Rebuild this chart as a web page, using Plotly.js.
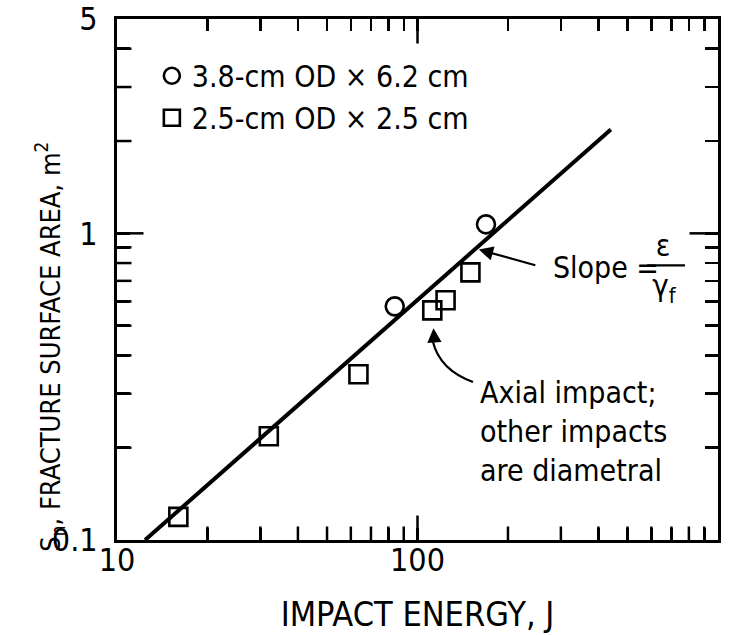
<!DOCTYPE html>
<html>
<head>
<meta charset="utf-8">
<script src="https://cdn.plot.ly/plotly-3.0.1.min.js"></script>
<style>
  html, body { margin: 0; padding: 0; background: #fff; }
  #chart { width: 753px; height: 635px; }
  /* narrow lettering for every label */
  #chart text { font-stretch: condensed !important; }
</style>
</head>
<body>
<div id="chart"></div>
<script>
// Fracture surface area versus impact energy (log-log)
const circleEnergy = [84, 169];
const circleArea = [0.578, 1.07];
const squareEnergy = [16, 32, 63.6, 112, 124, 150];
const squareArea = [0.119, 0.218, 0.347, 0.561, 0.605, 0.746];

// Fitted power-law line end points
const fitEnergy = [12.4, 440];
const fitArea = [0.1, 2.18];

const legendNames = ['3.8-cm OD \u00d7 6.2 cm', '2.5-cm OD \u00d7 2.5 cm'];

const xMajorTicks = [10, 100, 1000];
const xMajorLabels = ['10', '100', '1000'];
const xMinorTicks = [20, 30, 40, 50, 60, 70, 80, 90, 200, 300, 400, 500, 600, 700, 800, 900];
const yMajorTicks = [0.1, 1, 5];
const yMajorLabels = ['0.1', '1', '5'];
const yMinorTicks = [0.2, 0.3, 0.4, 0.5, 0.6, 0.7, 0.8, 0.9, 2, 3, 4];

const FONT = '"DejaVu Sans", sans-serif';
const X_RANGE = [1, 3];
const Y_RANGE = [-1, Math.log10(5)];
const MARGIN = { l: 117, r: 35, t: 19, b: 95 };
const PLOT_W = 753 - MARGIN.l - MARGIN.r;
const PLOT_H = 635 - MARGIN.t - MARGIN.b;

const TICK_W = 2.5, LINE_W = 3;
const X_MINOR_LEN = 12, X_MAJOR_LEN = 23, Y_MINOR_LEN = 13, Y_MAJOR_LEN = 25, Y_MAJOR_LEN_R = 27;
const pad = LINE_W / 2;

const toFrac = (v, r) => (Math.log10(v) - r[0]) / (r[1] - r[0]);
const inside = f => f > 0.001 && f < 0.999;
// value on a log axis lying a given number of pixels in from its low end
const xAtPx = px => Math.pow(10, X_RANGE[0] + px / PLOT_W * (X_RANGE[1] - X_RANGE[0]));
const yAtPx = px => Math.pow(10, Y_RANGE[0] + px / PLOT_H * (Y_RANGE[1] - Y_RANGE[0]));

// tick strokes along the bottom and left frame edges, drawn through the axes
const edgeTickX = [], edgeTickY = [];
xMajorTicks.concat(xMinorTicks).forEach(v => {
  if (!inside(toFrac(v, X_RANGE))) return;
  const len = (xMajorTicks.includes(v) ? X_MAJOR_LEN : X_MINOR_LEN) + pad;
  edgeTickX.push(v, v, null);
  edgeTickY.push(yAtPx(0), yAtPx(len), null);
});
yMajorTicks.concat(yMinorTicks).forEach(v => {
  if (!inside(toFrac(v, Y_RANGE))) return;
  const len = (yMajorTicks.includes(v) ? Y_MAJOR_LEN : Y_MINOR_LEN) + pad;
  edgeTickX.push(xAtPx(0), xAtPx(len), null);
  edgeTickY.push(v, v, null);
});

const traces = [
  {
    x: edgeTickX, y: edgeTickY, mode: 'lines', showlegend: false, hoverinfo: 'skip',
    connectgaps: false, line: { color: '#000', width: TICK_W }
  },
  {
    x: fitEnergy, y: fitArea, mode: 'lines', showlegend: false,
    line: { color: '#000', width: 4 }, hoverinfo: 'skip'
  },
  {
    x: circleEnergy, y: circleArea, mode: 'markers', name: legendNames[0],
    marker: { symbol: 'circle-open', size: 18, color: '#000', line: { color: '#000', width: 2.6 } }
  },
  {
    x: squareEnergy, y: squareArea, mode: 'markers', name: legendNames[1],
    marker: { symbol: 'square-open', size: 18, color: '#000', line: { color: '#000', width: 2.6 } }
  }
];

// short ticks for every decade and intermediate value come from the axes
const xAllTicks = xMajorTicks.concat(xMinorTicks);
const xAllLabels = xMajorLabels.concat(xMinorTicks.map(() => ''));
const yAllTicks = yMajorTicks.concat(yMinorTicks);
const yAllLabels = yMajorLabels.concat(yMinorTicks.map(() => ''));

const axisCommon = {
  type: 'log',
  showgrid: false,
  showline: true, linecolor: '#000', linewidth: LINE_W,
  mirror: 'ticks', ticks: 'inside', tickcolor: '#000', tickwidth: TICK_W,
  tickmode: 'array',
  tickfont: { family: FONT, size: 32, color: '#000' }
};

// longer decade strokes on the top and right edges
const tickStyle = { color: '#000', width: TICK_W };
const longTicks = [];
xMajorTicks.forEach(v => {
  const f = toFrac(v, X_RANGE);
  if (!inside(f)) return;
  longTicks.push({ type: 'line', xref: 'paper', yref: 'paper', x0: f, x1: f, y0: 1, y1: 1 - (X_MAJOR_LEN + pad) / PLOT_H, line: tickStyle });
});
yMajorTicks.forEach(v => {
  const f = toFrac(v, Y_RANGE);
  if (!inside(f)) return;
  longTicks.push({ type: 'line', xref: 'paper', yref: 'paper', x0: 1, x1: 1 - (Y_MAJOR_LEN_R + pad) / PLOT_W, y0: f, y1: f, line: tickStyle });
});

const layout = {
  width: 753, height: 635,
  margin: MARGIN,
  font: { family: FONT, color: '#000' },
  showlegend: true,
  legend: {
    x: 0.058, y: 0.941, xanchor: 'left', yanchor: 'top',
    bgcolor: 'rgba(0,0,0,0)', borderwidth: 0,
    font: { family: FONT, size: 30, color: '#000' },
    tracegroupgap: 0, itemwidth: 30
  },
  xaxis: Object.assign({}, axisCommon, {
    range: X_RANGE,
    tickvals: xAllTicks, ticktext: xAllLabels, ticklen: X_MINOR_LEN,
    ticklabelstandoff: -10,
    title: { text: 'IMPACT ENERGY, J', font: { family: FONT, size: 34, color: '#000' }, standoff: 24 }
  }),
  yaxis: Object.assign({}, axisCommon, {
    range: Y_RANGE,
    tickvals: yAllTicks, ticktext: yAllLabels, ticklen: Y_MINOR_LEN,
    ticklabelstandoff: 10
  }),
  shapes: longTicks.concat([
    // curved leader to the axial-impact point
    {
      type: 'path', xref: 'paper', yref: 'paper',
      path: 'M 0.5923 0.3033 Q 0.5374 0.3263 0.5258 0.3800',
      line: { color: '#000', width: 2.2 }
    },
    // fraction bar of the slope expression
    {
      type: 'line', xref: 'paper', yref: 'paper',
      x0: 0.882, x1: 0.945, y0: 0.527, y1: 0.527,
      line: { color: '#000', width: 2.2 }
    }
  ]),
  annotations: [
    {
      xref: 'paper', yref: 'paper', x: -0.112, y: 0.37,
      xanchor: 'center', yanchor: 'middle',
      text: 'S<sub>n</sub>, FRACTURE SURFACE AREA, m<sup>2</sup>',
      textangle: -90, showarrow: false,
      font: { family: FONT, size: 27, color: '#000' }
    },
    // arrow pointing at the fitted line
    {
      x: Math.log10(160), y: Math.log10(0.885), xref: 'x', yref: 'y',
      text: '', showarrow: true, ax: 58, ay: 16,
      arrowhead: 2, arrowsize: 1.3, arrowwidth: 2.2, arrowcolor: '#000',
      font: { size: 1 }
    },
    // arrow head for the axial-impact leader
    {
      x: Math.log10(113), y: Math.log10(0.49), xref: 'x', yref: 'y',
      text: '', showarrow: true, ax: 1, ay: 14,
      arrowhead: 2, arrowsize: 1.3, arrowwidth: 2.2, arrowcolor: '#000',
      font: { size: 1 }
    },
    {
      xref: 'paper', yref: 'paper', x: 0.712, y: 0.523, xanchor: 'left', yanchor: 'middle',
      text: 'Slope =', showarrow: false,
      font: { family: FONT, size: 30, color: '#000' }
    },
    {
      xref: 'paper', yref: 'paper', x: 0.909, y: 0.565, xanchor: 'center', yanchor: 'middle',
      text: '\u03b5', showarrow: false,
      font: { family: FONT, size: 30, color: '#000' }
    },
    {
      xref: 'paper', yref: 'paper', x: 0.911, y: 0.485, xanchor: 'center', yanchor: 'middle',
      text: '\u03b3<sub>f</sub>', showarrow: false,
      font: { family: FONT, size: 31, color: '#000' }
    },
    {
      xref: 'paper', yref: 'paper', x: 0.6, y: 0.208, xanchor: 'left', yanchor: 'middle',
      text: 'Axial impact;<br>other impacts<br>are diametral', align: 'left', showarrow: false,
      font: { family: FONT, size: 30, color: '#000' }
    }
  ]
};

Plotly.newPlot('chart', traces, layout, { displayModeBar: false, staticPlot: true });
</script>
</body>
</html>
